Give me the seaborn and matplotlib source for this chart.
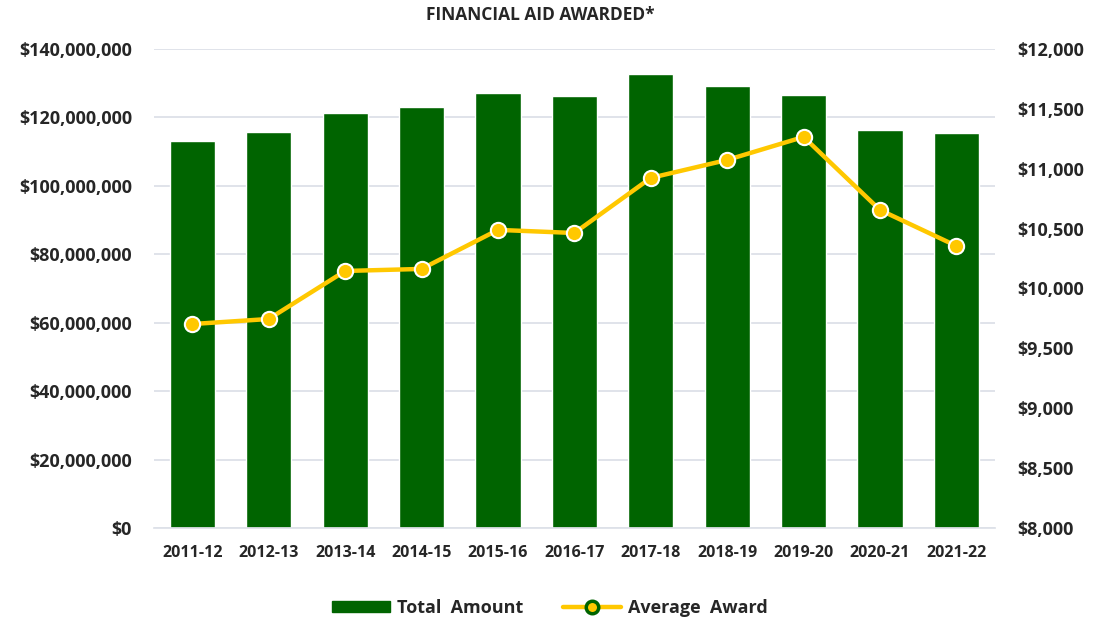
import matplotlib
matplotlib.use("Agg")
import matplotlib.pyplot as plt
import numpy as np
import seaborn as sns
from matplotlib.lines import Line2D
from matplotlib.patches import Patch
from matplotlib.ticker import FuncFormatter, MultipleLocator

years = ["2011-12", "2012-13", "2013-14", "2014-15", "2015-16", "2016-17",
         "2017-18", "2018-19", "2019-20", "2020-21", "2021-22"]
total_amount = [113.1e6, 115.8e6, 121.3e6, 123.1e6, 127.2e6, 126.3e6,
                132.7e6, 129.2e6, 126.6e6, 116.3e6, 115.5e6]
average_award = [9703, 9745, 10146, 10163, 10489, 10463,
                 10923, 11073, 11265, 10655, 10355]

GREEN = "#006400"
GOLD = "#FFC800"
GRID = "#DDE1E8"

sns.set_theme(style="white")
plt.rcParams["font.family"] = ["Open Sans", "DejaVu Sans"]
plt.rcParams["font.weight"] = "bold"

fig = plt.figure(figsize=(10.93, 6.19), dpi=100)
ax = fig.add_axes([0.141, 0.147, 0.769, 0.774])

sns.barplot(x=years, y=total_amount, color=GREEN, width=0.59, saturation=1,
            ax=ax, zorder=2)
ax.set_ylim(0, 140e6)
ax.set_xlim(-0.5, len(years) - 0.5)
ax.yaxis.set_major_locator(MultipleLocator(20e6))
ax.yaxis.set_major_formatter(FuncFormatter(lambda v, p: f"${v:,.0f}"))
ax.grid(axis="y", color=GRID, linewidth=1.3, zorder=0)
ax.set_axisbelow(True)
for s in ["top", "right", "left"]:
    ax.spines[s].set_visible(False)
ax.spines["bottom"].set_color(GRID)
ax.tick_params(axis="y", length=0, labelsize=13, pad=16)
ax.tick_params(axis="x", length=0, labelsize=11.5, pad=12)
for lbl in ax.get_xticklabels() + ax.get_yticklabels():
    lbl.set_fontweight("bold")

ax2 = ax.twinx()
ax2.plot(np.arange(len(years)), average_award, color=GOLD, linewidth=3.2,
         marker="o", markersize=11, markerfacecolor=GOLD,
         markeredgecolor="white", markeredgewidth=1.5, zorder=3)
ax2.set_ylim(8000, 12000)
ax2.yaxis.set_major_locator(MultipleLocator(500))
ax2.yaxis.set_major_formatter(FuncFormatter(lambda v, p: f"${v:,.0f}"))
for s in ["top", "right", "left", "bottom"]:
    ax2.spines[s].set_visible(False)
ax2.tick_params(axis="y", length=0, labelsize=13, pad=16)
for lbl in ax2.get_yticklabels():
    lbl.set_fontweight("bold")
ax2.grid(False)

fig.text(0.494, 0.975, "FINANCIAL AID AWARDED*", ha="center", va="center",
         fontsize=12.5, fontweight="bold")

handles = [
    Patch(facecolor=GREEN, edgecolor=GREEN),
    Line2D([0], [0], color=GOLD, linewidth=3.2, marker="o", markersize=9,
           markerfacecolor=GOLD, markeredgecolor=GREEN, markeredgewidth=2.5),
]
fig.legend(handles, ["Total  Amount", "Average  Award"], loc="center",
           bbox_to_anchor=(0.503, 0.018), ncol=2, frameon=False,
           handlelength=3.2, handleheight=0.6, handletextpad=0.4,
           columnspacing=2.2, prop={"weight": "bold", "size": 13})

fig.savefig("out.png", dpi=100)
